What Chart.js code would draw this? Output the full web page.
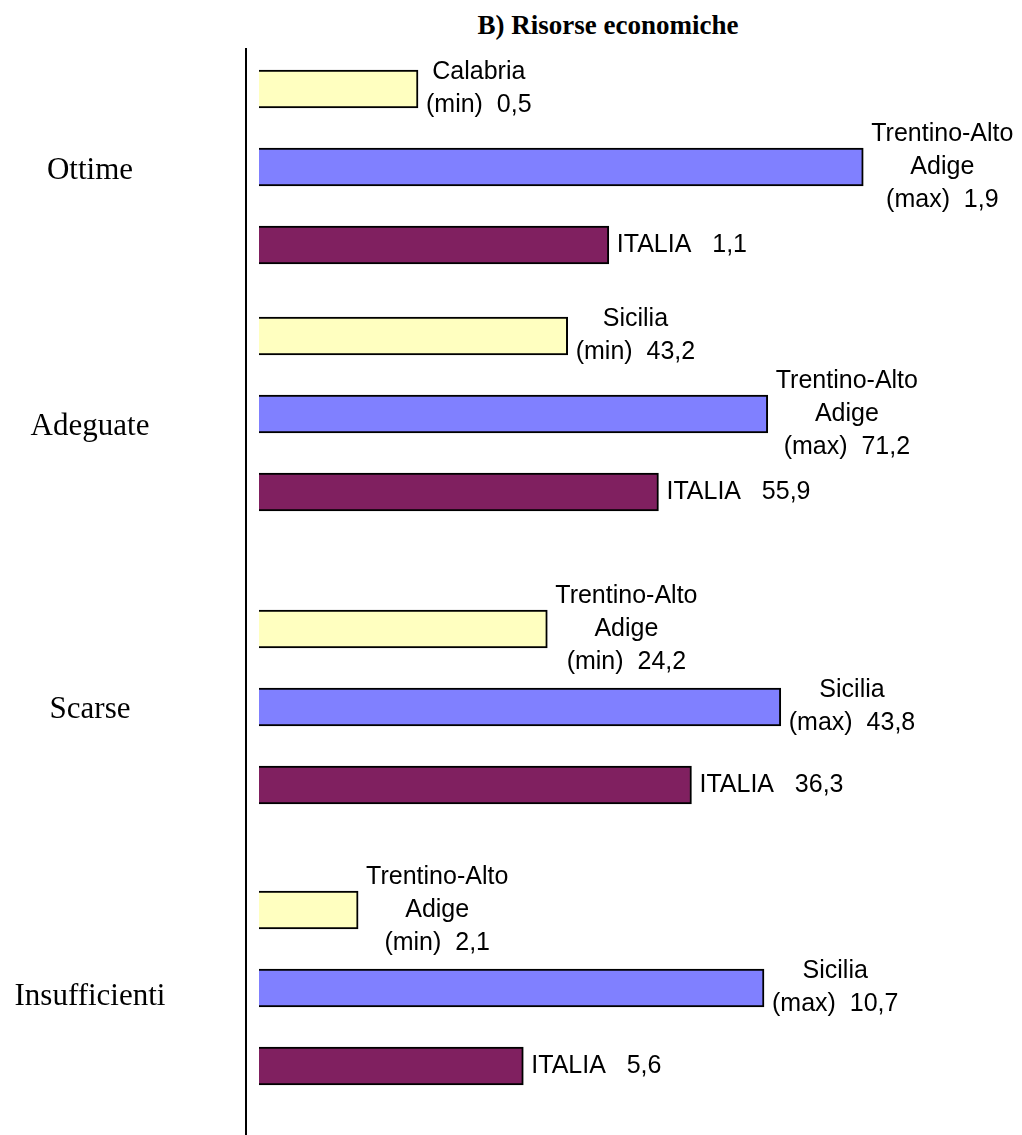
<!DOCTYPE html>
<html>
<head>
<meta charset="utf-8">
<script src="https://cdn.jsdelivr.net/npm/chart.js@4.4.0/dist/chart.umd.min.js"></script>
<style>
    html, body { margin: 0; padding: 0; background: #fff; }
    #page { position: relative; width: 1022px; height: 1135px; overflow: hidden; }
    #title {
        position: absolute; top: 10px; left: 408px; width: 400px;
        text-align: center; line-height: 30px;
        font: bold 27px "Liberation Serif", "Times New Roman", serif;
    }
    #axis { position: absolute; left: 245px; top: 48px; width: 2px; height: 1087px; background: #000; }
    .panel { position: absolute; left: 0; width: 1022px; }
</style>
</head>
<body>
<div id="page">
    <div id="title">B) Risorse economiche</div>
    <div id="axis"></div>
</div>
<script>
// values per group: regional minimum, regional maximum, Italy
const categories = ['Ottime', 'Adeguate', 'Scarse', 'Insufficienti'];
const minRegions = ['Calabria', 'Sicilia', 'Trentino-Alto Adige', 'Trentino-Alto Adige'];
const minValues = [0.5, 43.2, 24.2, 2.1];
const maxRegions = ['Trentino-Alto Adige', 'Trentino-Alto Adige', 'Sicilia', 'Sicilia'];
const maxValues = [1.9, 71.2, 43.8, 10.7];
const italiaValues = [1.1, 55.9, 36.3, 5.6];
// each group is drawn on its own scale
const axisMax = [2.33, 103.7, 62.2, 15.7];

// layout of the four stacked panels
const panelTop = [48, 290, 560, 855];
const panelHeight = [242, 270, 295, 280];
const padTop = [2, 7, 30, 16];
const padBottom = [6, 29, 31, 30];

const colors = ['#FFFFC0', '#8080FF', '#802060'];

function fmt(v) {
    return v.toFixed(1).replace('.', ',');
}

function splitRegion(name) {
    return name.split(' ');
}

function labelsPlugin(lines, group) {
    return {
        id: 'barLabels',
        afterDatasetsDraw(chart) {
            const ctx = chart.ctx;
            const meta = chart.getDatasetMeta(0);
            ctx.save();
            ctx.fillStyle = '#000';
            ctx.textAlign = 'center';
            ctx.textBaseline = 'middle';
            ctx.font = '25px "Liberation Sans", Arial, sans-serif';
            meta.data.forEach((bar, j) => {
                const text = lines[j];
                const w = Math.max(...text.map(t => ctx.measureText(t).width));
                const cx = bar.x + 8 + w / 2;
                const y0 = bar.y - (text.length - 1) * 33 / 2;
                text.forEach((t, k) => ctx.fillText(t, cx, y0 + k * 33));
            });
            ctx.font = '31px "Liberation Serif", "Times New Roman", serif';
            ctx.fillText(group, 90, chart.height / 2 + 2);
            ctx.restore();
        }
    };
}

const page = document.getElementById('page');

categories.forEach((cat, i) => {
    const box = document.createElement('div');
    box.className = 'panel';
    box.style.top = panelTop[i] + 'px';
    box.style.height = panelHeight[i] + 'px';
    const canvas = document.createElement('canvas');
    box.appendChild(canvas);
    page.appendChild(box);

    const lines = [
        splitRegion(minRegions[i]).concat('(min)  ' + fmt(minValues[i])),
        splitRegion(maxRegions[i]).concat('(max)  ' + fmt(maxValues[i])),
        ['ITALIA   ' + fmt(italiaValues[i])]
    ];

    new Chart(canvas.getContext('2d'), {
        type: 'bar',
        data: {
            labels: ['min', 'max', 'ITALIA'],
            datasets: [{
                data: [minValues[i], maxValues[i], italiaValues[i]],
                backgroundColor: colors,
                borderColor: '#000',
                borderWidth: 2,
                barThickness: 38
            }]
        },
        options: {
            indexAxis: 'y',
            responsive: true,
            maintainAspectRatio: false,
            animation: false,
            layout: { padding: { left: 259, right: 22, top: padTop[i], bottom: padBottom[i] } },
            plugins: {
                legend: { display: false },
                tooltip: { enabled: false }
            },
            scales: {
                x: { display: false, min: 0, max: axisMax[i] },
                y: { display: false }
            }
        },
        plugins: [labelsPlugin(lines, cat)]
    });
});
</script>
</body>
</html>
